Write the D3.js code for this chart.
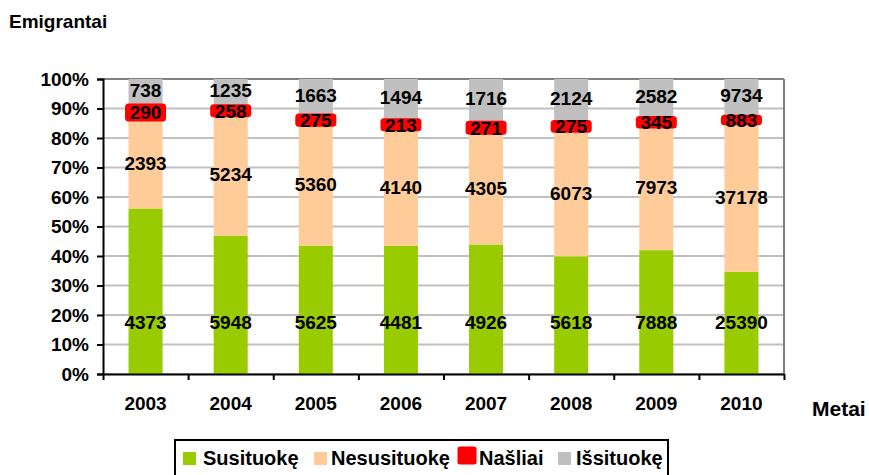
<!DOCTYPE html>
<html>
<head>
<meta charset="utf-8">
<script src="https://cdn.jsdelivr.net/npm/d3@7"></script>
<style>
  html, body { margin: 0; padding: 0; background: #fff; }
  svg { display: block; font-family: "Liberation Sans", Arial, sans-serif; font-weight: bold; }
</style>
</head>
<body>
<svg id="chart" width="869" height="475"></svg>
<script>
// ---- data ----
const years = ["2003", "2004", "2005", "2006", "2007", "2008", "2009", "2010"];
const seriesNames = ["Susituokę", "Nesusituokę", "Našliai", "Išsituokę"];
const susituoke   = [4373, 5948, 5625, 4481, 4926, 5618, 7888, 25390];
const nesusituoke = [2393, 5234, 5360, 4140, 4305, 6073, 7973, 37178];
const nasliai     = [290, 258, 275, 213, 271, 275, 345, 883];
const issituoke   = [738, 1235, 1663, 1494, 1716, 2124, 2582, 9734];
const yTicks = [0, 0.1, 0.2, 0.3, 0.4, 0.5, 0.6, 0.7, 0.8, 0.9, 1.0];
const colors = ["#99CC00", "#FFCC99", "#FF0000", "#C0C0C0"];

(function () {
const seriesValues = [susituoke, nesusituoke, nasliai, issituoke];
const table = years.map((yr, i) => {
  const row = { year: yr };
  seriesNames.forEach((s, k) => row[s] = seriesValues[k][i]);
  return row;
});

const svg = d3.select("#chart");
const pLeft = 103, pRight = 784, pTop = 79, pBottom = 374;

const x = d3.scaleBand().domain(years).range([pLeft, pRight]).paddingInner(0.6).paddingOuter(0.3);
const y = d3.scaleLinear().domain([0, 1]).range([pBottom, pTop]);

const stack = d3.stack().keys(seriesNames).offset(d3.stackOffsetExpand);
const stacked = stack(table);

// gridlines
svg.append("g").selectAll("line").data(yTicks.filter(d => d < 1)).join("line")
  .attr("x1", pLeft).attr("x2", pRight)
  .attr("y1", d => y(d)).attr("y2", d => y(d))
  .attr("stroke", "#c0c0c0").attr("stroke-width", 2);
// plot border top/right
svg.append("line").attr("x1", pLeft).attr("x2", pRight).attr("y1", y(1)).attr("y2", y(1))
  .attr("stroke", "#808080").attr("stroke-width", 2);
svg.append("line").attr("x1", pRight).attr("x2", pRight).attr("y1", pTop).attr("y2", pBottom)
  .attr("stroke", "#808080").attr("stroke-width", 2);

// bars
const layers = svg.append("g").selectAll("g").data(stacked).join("g")
  .attr("fill", (d, i) => colors[i]);
layers.each(function(layer, k) {
  const g = d3.select(this);
  const sel = g.selectAll("rect").data(layer).join("rect")
    .attr("x", d => x(d.data.year))
    .attr("width", x.bandwidth())
    .attr("y", d => y(d[1]))
    .attr("height", d => y(d[0]) - y(d[1]));
  if (seriesNames[k] === "Našliai") {
    sel.attr("stroke", colors[k]).attr("stroke-width", 7).attr("stroke-linejoin", "round");
  }
});
layers.filter((d, i) => seriesNames[i] === "Našliai").raise();

// y axis
const yAxis = d3.axisLeft(y).tickValues(yTicks).tickFormat(d3.format(".0%")).tickSize(6).tickPadding(8);
const gy = svg.append("g").attr("transform", `translate(${pLeft},0)`).call(yAxis);
gy.select(".domain").attr("stroke", "#000").attr("stroke-width", 2);
gy.selectAll(".tick line").attr("stroke", "#000").attr("stroke-width", 2);
gy.selectAll(".tick text").attr("font-size", 19).attr("font-family", null).attr("fill", "#000");

// x axis line + boundary ticks
const xb = d3.scaleLinear().domain([0, years.length]).range([pLeft, pRight]);
const xAxisTicks = d3.axisBottom(xb).tickValues(d3.range(0, years.length + 1)).tickFormat("").tickSize(6).tickSizeOuter(0);
const gx = svg.append("g").attr("transform", `translate(0,${pBottom})`).call(xAxisTicks);
gx.select(".domain").attr("stroke", "#000").attr("stroke-width", 2);
gx.selectAll(".tick line").attr("stroke", "#000").attr("stroke-width", 2);

const xAxisLabels = d3.axisBottom(x).tickSize(0).tickPadding(0);
const gxl = svg.append("g").attr("transform", `translate(0,${pBottom})`).call(xAxisLabels);
gxl.select(".domain").remove();
gxl.selectAll(".tick text").attr("font-size", 19).attr("font-family", null).attr("fill", "#000")
  .attr("dy", null).attr("y", 36);

// data labels
const labels = svg.append("g").attr("font-size", 19).attr("text-anchor", "middle").attr("fill", "#000");
stacked.forEach((layer, k) => {
  labels.selectAll(null).data(layer).join("text")
    .attr("x", d => x(d.data.year) + x.bandwidth() / 2)
    .attr("y", d => {
      if (k === 0) return y(0.175);
      if (k === 3) return y((d[0] + d[1]) / 2) - 3;
      return y((d[0] + d[1]) / 2);
    })
    .attr("dy", "0.36em")
    .text(d => d.data[seriesNames[k]]);
});

// titles
svg.append("text").attr("x", 9).attr("y", 28).attr("font-size", 19).text("Emigrantai");
svg.append("text").attr("x", 812).attr("y", 416).attr("font-size", 21).text("Metai");

// legend
const lg = svg.append("g");
lg.append("rect").attr("x", 175).attr("y", 440).attr("width", 493).attr("height", 45)
  .attr("fill", "none").attr("stroke", "#000").attr("stroke-width", 2);
const legendItems = [
  { marker: [183, 452, 13, 13], tx: 203 },
  { marker: [314, 452, 13, 13], tx: 331 },
  { marker: [460, 449, 14, 13], tx: 479 },
  { marker: [558, 452, 13, 13], tx: 576 }
];
legendItems.forEach((it, i) => {
  const m = lg.append("rect").attr("x", it.marker[0]).attr("y", it.marker[1])
    .attr("width", it.marker[2]).attr("height", it.marker[3]).attr("fill", colors[i]);
  if (i === 2) m.attr("stroke", colors[i]).attr("stroke-width", 5).attr("stroke-linejoin", "round");
  lg.append("text").attr("x", it.tx).attr("y", 465).attr("font-size", 20).text(seriesNames[i]);
});
})();
</script>
</body>
</html>
